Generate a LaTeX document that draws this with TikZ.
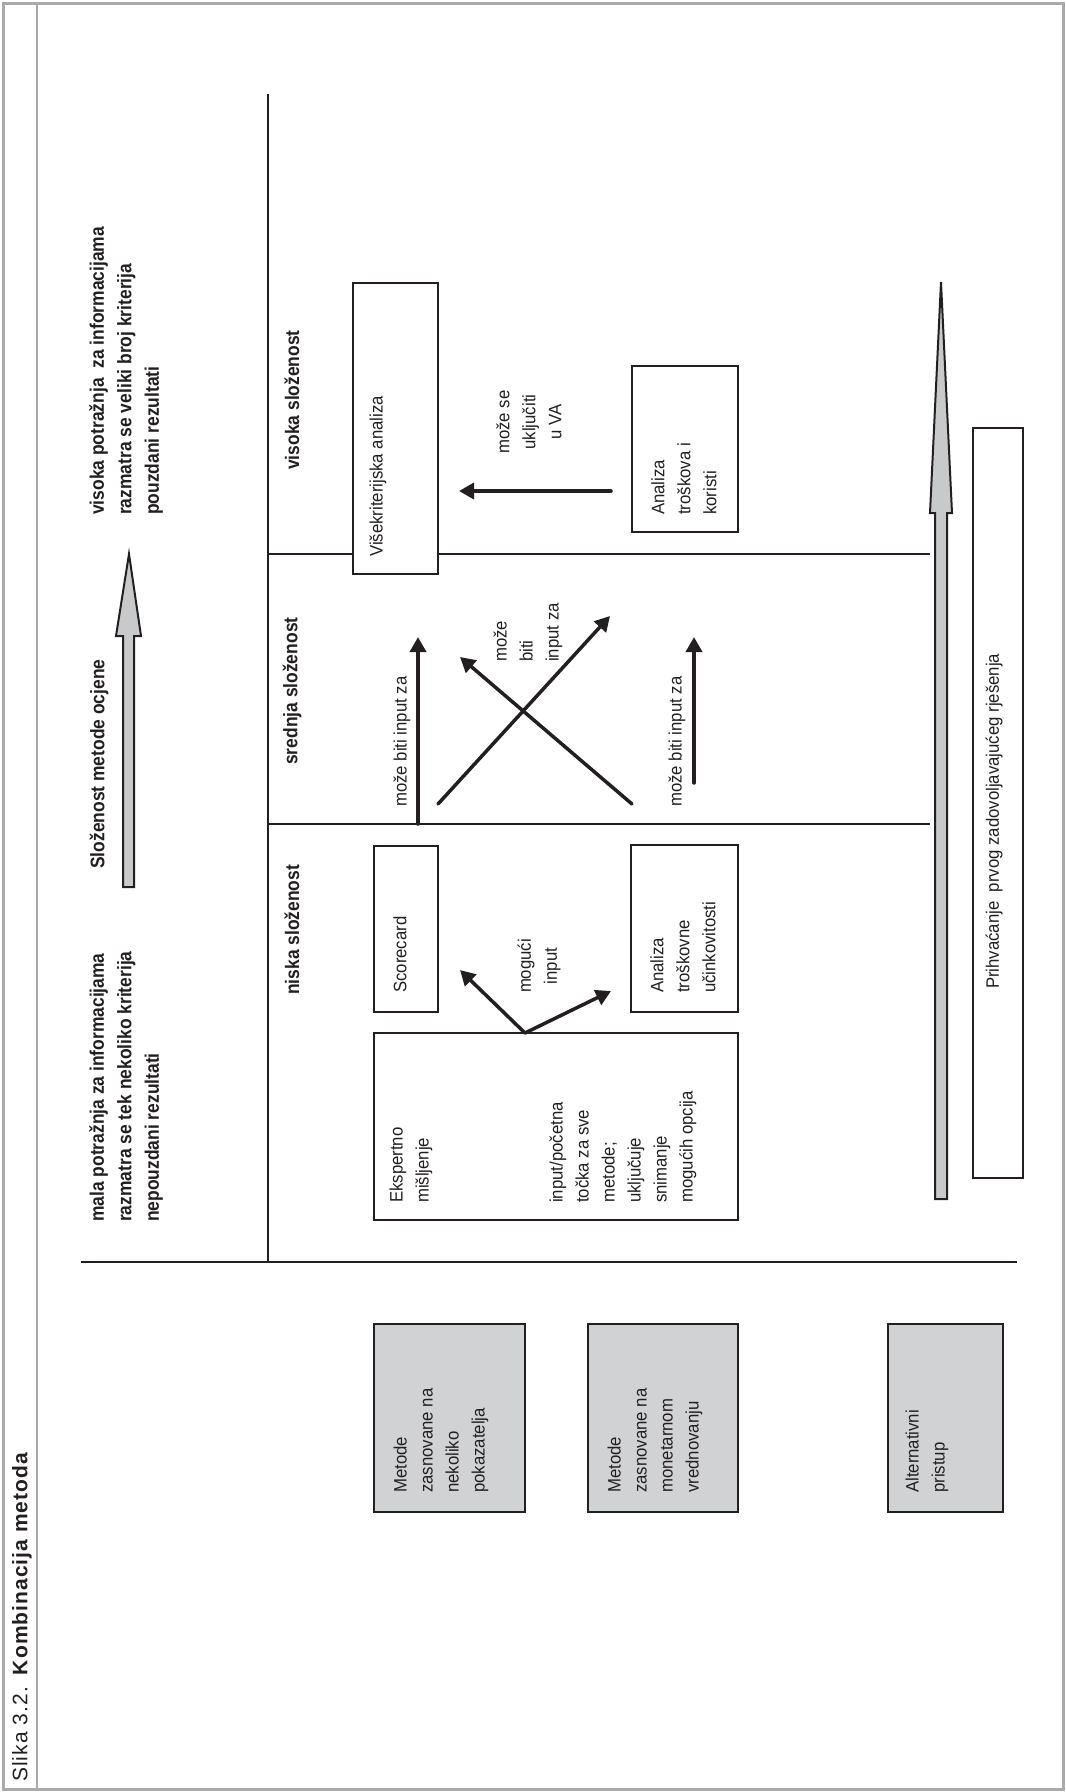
\documentclass[tikz,border=0pt]{standalone}
\usepackage{fontspec}
\usetikzlibrary{arrows.meta}
\newfontfamily\rf{Liberation Sans}[FakeStretch=0.93]
\newfontfamily\hb{Liberation Sans}[FakeStretch=0.89]
\newfontfamily\capf{Liberation Sans}[LetterSpace=5]
\definecolor{boxgray}{RGB}{209,210,212}
\definecolor{arrgray}{RGB}{200,201,203}
\definecolor{framegray}{RGB}{170,170,170}
\definecolor{ink}{RGB}{35,31,32}
\begin{document}
\begin{tikzpicture}[x=1pt,y=-1pt,
  txt/.style={rotate=90, inner sep=0pt, font=\rf\fontsize{18}{26}\selectfont, align=left, text=ink, anchor=west},
  hdr/.style={rotate=90, inner sep=0pt, font=\hb\bfseries\fontsize{19.6}{27.5}\selectfont, align=left, text=ink, anchor=west},
  wbox/.style={draw=ink, line width=2pt, fill=white, inner sep=0pt, outer sep=0pt},
  gbox/.style={draw=ink, line width=2pt, fill=boxgray, inner sep=0pt, outer sep=0pt},
  ln/.style={draw=ink, line width=2pt},
  arr/.style={draw=ink, line width=3.5pt, line cap=round, -{Triangle[length=15pt,width=16pt]}}
]
\useasboundingbox (0,0) rectangle (1066,1792);
% frame
\draw[framegray, line width=3pt] (3,3) rectangle (1063,1789);
\draw[framegray, line width=2.5pt] (37,3) -- (37,1789);
\node[rotate=90, anchor=west, inner sep=0pt, text=ink] (cap) at (22,1782)
  {\capf\fontsize{21}{25}\selectfont Slika 3.2.\hspace{12pt}\bfseries Kombinacija metoda};

% main lines
\coordinate (vtop) at (268,94);
\coordinate (vbot) at (268,1262);
\coordinate (hl) at (81,1262);
\coordinate (hr) at (1017,1262);
\coordinate (m1l) at (268,824);
\coordinate (m1r) at (930,824);
\coordinate (m2l) at (268,554);
\coordinate (m2r) at (930,554);
\draw[ln] (vtop) -- (vbot);
\draw[ln] (hl) -- (hr);
\draw[ln] (m1l) -- (m1r);
\draw[ln] (m2l) -- (m2r);

% small gray arrow
\draw[draw=ink, line width=2pt, fill=arrgray, line join=miter]
  (123,887) -- (123,636) -- (116,636) -- (129,554) -- (141,636) -- (134,636) -- (134,887) -- cycle;
% big gray arrow
\draw[draw=ink, line width=2pt, fill=arrgray, line join=miter]
  (935,1199) -- (935,513) -- (930,513) -- (941,282) -- (952,513) -- (947,513) -- (947,1199) -- cycle;

% headers
\node[hdr] (mala) at (126,1222) {mala potražnja za informacijama\\razmatra se tek nekoliko kriterija\\nepouzdani rezultati};
\node[hdr] (vis) at (126,515) {visoka potražnja \ za informacijama\\razmatra se veliki broj kriterija\\pouzdani rezultati};
\node[hdr] (slo) at (99,869) {Složenost metode ocjene};
\node[hdr] (nis) at (292,995) {niska složenost};
\node[hdr] (sre) at (292,765) {srednja složenost};
\node[hdr] (vso) at (292,470) {visoka složenost};

% boxes
\node[wbox, minimum width=85pt, minimum height=291pt] (vk) at (395.5,428.5) {};
\node[wbox, minimum width=106pt, minimum height=166pt] (atk) at (685,449) {};
\node[wbox, minimum width=50pt, minimum height=750pt] (pr) at (998,803) {};
\node[wbox, minimum width=64pt, minimum height=166pt] (sc) at (406,929) {};
\node[wbox, minimum width=107pt, minimum height=167pt] (atu) at (684.5,928.5) {};
\node[wbox, minimum width=364pt, minimum height=187pt] (ek) at (556,1126.5) {};
\node[gbox, minimum width=151pt, minimum height=188pt] (g1) at (449.5,1418) {};
\node[gbox, minimum width=150pt, minimum height=188pt] (g2) at (663,1418) {};
\node[gbox, minimum width=115pt, minimum height=188pt] (g3) at (945.5,1418) {};

% texts
\node[txt] (vktxt) at (378,557) {Višekriterijska analiza};
\node[txt] (atktxt) at (684,515) {Analiza\\troškova i\\koristi};
\node[txt, align=center, anchor=center] (uvatxt) at (529,422) {može se\\uključiti\\u VA};
\node[txt] (sctxt) at (400,993) {Scorecard};
\node[txt] (atutxt) at (683,993) {Analiza\\troškovne\\učinkovitosti};
\node[txt] (ektxt) at (411,1203) {Ekspertno\\mišljenje};
\node[txt] (intxt) at (623,1203) {input/početna\\točka za sve\\metode;\\uključuje\\snimanje\\mogućih opcija};
\node[txt, align=center, anchor=center] (mogtxt) at (539,966) {mogući\\input};
\node[txt] (mb1) at (402,807) {može biti input za};
\node[txt] (mb2) at (528,662) {može\\biti\\input za};
\node[txt] (mb3) at (677,807) {može biti input za};
\node[txt] (prtxt) at (994,989) {Prihvaćanje \ prvog zadovoljavajućeg rješenja};
\node[txt] (g1txt) at (441,1493) {Metode\\zasnovane na\\nekoliko\\pokazatelja};
\node[txt] (g2txt) at (655,1493) {Metode\\zasnovane na\\monetarnom\\vrednovanju};
\node[txt] (g3txt) at (927,1493) {Alternativni\\pristup};

% arrows
\coordinate (a1s) at (418,824);
\coordinate (a1e) at (418,637);
\coordinate (c1s) at (438,804);
\coordinate (c1e) at (610,616);
\coordinate (c2s) at (632,804);
\coordinate (c2e) at (460,657);
\coordinate (a2s) at (694,783);
\coordinate (a2e) at (694,637);
\coordinate (ekp) at (525,1033);
\coordinate (e1) at (460,970);
\coordinate (e2) at (611,991);
\coordinate (vas) at (611,491);
\coordinate (vae) at (459,491);
\draw[arr] (a1s) -- (a1e);
\draw[arr] (c1s) -- (c1e);
\draw[arr] (c2s) -- (c2e);
\draw[arr] (a2s) -- (a2e);
\draw[arr] (ekp) -- (e1);
\draw[arr] (ekp) -- (e2);
\draw[arr] (vas) -- (vae);
\end{tikzpicture}
\end{document}
